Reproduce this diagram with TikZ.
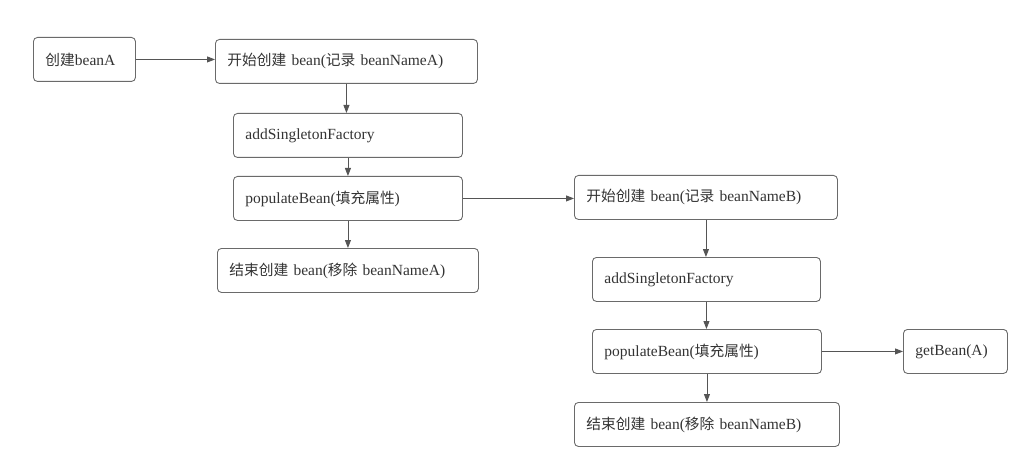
\documentclass[tikz,border=0pt]{standalone}
\usepackage{fontspec}
\setmainfont{Liberation Serif}
\newfontfamily\cjk[Scale=0.95]{Noto Sans CJK SC}
\usetikzlibrary{arrows.meta}
\definecolor{boxgray}{HTML}{6A6A6A}
\definecolor{textgray}{HTML}{333333}
\tikzset{
  stepbox/.style={draw=boxgray, line width=0.9pt, rounded corners=4pt, anchor=north west,
    inner xsep=12pt, inner ysep=0pt, minimum height=44pt, text width=#1, align=left,
    text=textgray, font=\fontsize{15.5}{18}\selectfont},
  flow/.style={draw=boxgray!80!black, line width=0.9pt, -{Triangle[length=8pt,width=6pt]}}
}
\begin{document}
\begin{tikzpicture}[x=1pt,y=-1pt]
                \useasboundingbox (0,0) rectangle (1026,468);
                % bean A
                \node[stepbox=78pt] (createA) at (33,37) {{\cjk 创建}beanA};
                \node[stepbox=238pt] (startA) at (215,39) {{\cjk 开始创建} bean({\cjk 记录} beanNameA)};
                \node[stepbox=205pt] (addA) at (233,113) {addSingletonFactory};
                \node[stepbox=205pt] (populateA) at (233,176) {populateBean({\cjk 填充属性})};
                \node[stepbox=237pt] (endA) at (217,248) {{\cjk 结束创建} bean({\cjk 移除} beanNameA)};
                % bean B
                \node[stepbox=239pt] (startB) at (574,175) {{\cjk 开始创建} bean({\cjk 记录} beanNameB)};
                \node[stepbox=204pt] (addB) at (592,257) {addSingletonFactory};
                \node[stepbox=205pt] (populateB) at (592,329) {populateBean({\cjk 填充属性})};
                \node[stepbox=80pt] (getA) at (903,329) {getBean(A)};
                \node[stepbox=241pt] (endB) at (574,402) {{\cjk 结束创建} bean({\cjk 移除} beanNameB)};
                \draw[flow] (createA.east) -- (createA.east -| startA.west);
                \draw[flow] (startA.south) -- (startA.south |- addA.north);
                \draw[flow] (addA.south) -- (addA.south |- populateA.north);
                \draw[flow] (populateA.south) -- (populateA.south |- endA.north);
                \draw[flow] (populateA.east) -- (populateA.east -| startB.west);
                \draw[flow] (startB.south) -- (startB.south |- addB.north);
                \draw[flow] (addB.south) -- (addB.south |- populateB.north);
                \draw[flow] (populateB.south) -- (populateB.south |- endB.north);
                \draw[flow] (populateB.east) -- (getA.west);
\end{tikzpicture}
\end{document}
